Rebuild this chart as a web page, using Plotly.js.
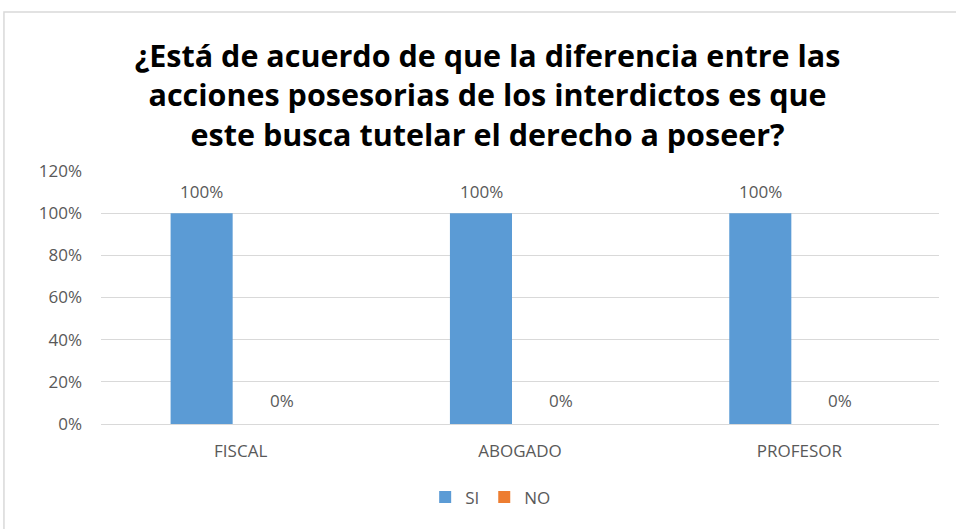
<!DOCTYPE html>
<html>
<head>
<meta charset="utf-8">
<script src="https://cdn.plot.ly/plotly-3.0.1.min.js"></script>
<style>html,body{margin:0;padding:0;background:#fff;}#chart{width:956px;height:529px;}</style>
</head>
<body>
<div id="chart"></div>
<script>
const categories = ["FISCAL", "ABOGADO", "PROFESOR"];
const siValues = [1.0, 1.0, 1.0];
const noValues = [0.0, 0.0, 0.0];
const seriesNames = ["SI", "NO"];
const titleLines = ["¿Está de acuerdo de que la diferencia entre las", "acciones posesorias de los interdictos es que", "este busca tutelar el derecho a poseer?"];

const labelFont = {family: "Open Sans, Liberation Sans, sans-serif", size: 17, color: "#595959"};
const pct = v => Math.round(v * 100) + "%";

const traces = [
  {type: "bar", name: seriesNames[0], x: categories, y: siValues, marker: {color: "#5B9BD5"}, hoverinfo: "x+y"},
  {type: "bar", name: seriesNames[1], x: categories, y: noValues, marker: {color: "#ED7D31"}, hoverinfo: "x+y"}
];

const annotations = [];
categories.forEach((c, i) => {
  annotations.push({x: c, y: siValues[i], xref: "x", yref: "y", text: pct(siValues[i]), showarrow: false,
                    xshift: -39, yshift: 22, font: labelFont});
  annotations.push({x: c, y: noValues[i], xref: "x", yref: "y", text: pct(noValues[i]), showarrow: false,
                    xshift: 41, yshift: 24, font: labelFont});
});

const layout = {
  width: 956, height: 529,
  margin: {l: 101, r: 17, t: 171, b: 105},
  paper_bgcolor: "#ffffff", plot_bgcolor: "#ffffff",
  title: {text: titleLines.join("<br>"), x: 0.51, xref: "container", xanchor: "center",
          y: 0.874, yref: "container", yanchor: "top",
          font: {family: "Open Sans, Liberation Sans, sans-serif", size: 30.5, color: "#000000", weight: "bold"}},
  barmode: "group", bargap: 0.441, bargroupgap: 0.205,
  xaxis: {showgrid: false, showline: true, linecolor: "#d9d9d9", linewidth: 1, ticks: "",
          tickfont: labelFont, ticklabelstandoff: 12},
  yaxis: {range: [0, 1.2], dtick: 0.2, tickformat: ".0%", showgrid: true, gridcolor: "#d9d9d9", gridwidth: 1,
          zeroline: false, showline: false, ticks: "", tickfont: labelFont, ticklabelstandoff: 18},
  annotations: annotations,
  showlegend: true,
  legend: {orientation: "h", x: 0.465, xanchor: "center", y: -0.29, yanchor: "middle",
           font: labelFont, itemwidth: 30, traceorder: "normal"},
  shapes: [{type: "rect", xref: "paper", yref: "paper", x0: -0.1158, x1: 1.03, y0: -0.45, y1: 1.628,
            line: {color: "#d9d9d9", width: 1.5}, fillcolor: "rgba(0,0,0,0)", layer: "below"}]
};

Plotly.newPlot("chart", traces, layout, {displayModeBar: false, staticPlot: true});
</script>
</body>
</html>
